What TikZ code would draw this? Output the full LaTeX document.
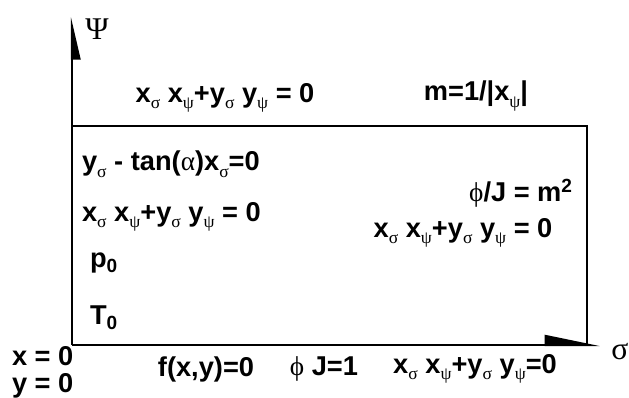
\documentclass[tikz,border=0pt]{standalone}
\usepackage{fontspec}
\setmainfont{Liberation Sans}
\newfontfamily\greekfont{Liberation Serif}
\usetikzlibrary{arrows.meta, positioning}
\newcommand{\gk}[1]{{\normalfont\greekfont #1}}
\newcommand{\idx}[1]{\raisebox{-0.45ex}{\fontsize{10}{10}\selectfont\gk{#1}}}
\newcommand{\orthcond}[1]{x\idx{σ} x\idx{ψ}+y\idx{σ} y\idx{ψ}#1}

\begin{document}
\begin{tikzpicture}[x=0.02cm, y=0.02cm, line width=1.2pt,
    lbl/.style={font=\bfseries\fontsize{15.5}{17}\selectfont, inner sep=0pt},
    axlbl/.style={font=\fontsize{18}{20}\selectfont, inner sep=0pt}]
    \useasboundingbox (0,0) rectangle (629,397);

    % Axes and domain
    \coordinate (o) at (72,52);
    \coordinate (psitop) at (72,380);
    \coordinate (sigend) at (600,52);
    \coordinate (boxtl) at (72,271);
    \coordinate (boxtr) at (587,271);
    \coordinate (boxbr) at (587,52);
    \draw[-{Triangle[harpoon,swap,length=0.76cm,width=0.34cm]}] (o) -- (psitop);
    \draw[-{Triangle[harpoon,length=1cm,width=0.4cm]}] (o) -- (sigend);
    \draw (boxtl) -- (boxtr) -- (boxbr);
    \node[axlbl] (psi) at (97,368) {\gk{Ψ}};
    \node[axlbl] (sigma) at (620,45) {\gk{σ}};

    % Upper boundary
    \node[lbl] (topeq) at (225,299) {\orthcond{ = 0}};
    \node[lbl] (mdef) at (476,301) {m=1/|x\idx{ψ}|};

    % Inflow side
    \node[lbl, anchor=west] (slip) at (81,233) {y\idx{σ} - tan(\gk{α})x\idx{σ}=0};
    \node[lbl, anchor=west] (lefteq) at (81,180) {\orthcond{ = 0}};
    \node[lbl, anchor=west] (pnull) at (89,134) {p\textsubscript{0}};
    \node[lbl, anchor=west] (tnull) at (89,79) {T\textsubscript{0}};

    % Outflow side
    \node[lbl, anchor=east] (phij) at (574,204) {\gk{ϕ}/J = m\textsuperscript{2}};
    \node[lbl] (righteq) at (463,164) {\orthcond{ = 0}};

    % Lower boundary
    \node[lbl, anchor=west] (xnull) at (11,41) {x = 0};
    \node[lbl, anchor=west] (ynull) at (11,11) {y = 0};
    \node[lbl] (wall) at (206,28) {f(x,y)=0};
    \node[lbl] (jone) at (324,28) {\gk{ϕ} J=1};
    \node[lbl] (boteq) at (475,28) {\orthcond{=0}};
\end{tikzpicture}
\end{document}
